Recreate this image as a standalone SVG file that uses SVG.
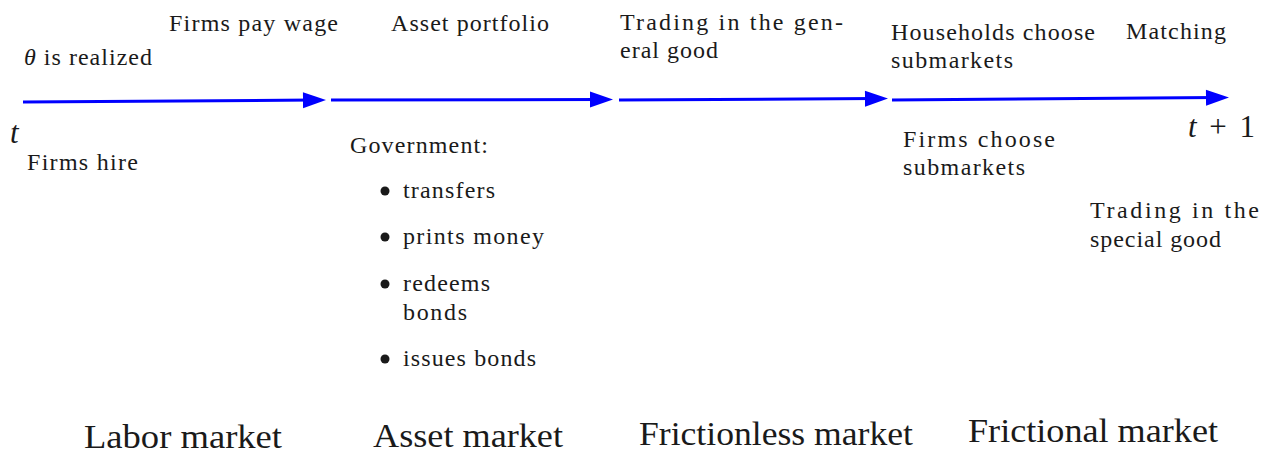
<svg xmlns="http://www.w3.org/2000/svg" width="1270" height="453" viewBox="0 0 1270 453">
<style>
.dot{fill:#1a1a1a;}
.ln{fill:none;stroke:#0000ff;stroke-width:3;}
</style>
<defs>
<marker id="ah" markerUnits="userSpaceOnUse" markerWidth="24" markerHeight="18" viewBox="0 0 24 18" refX="10" refY="9" orient="auto" overflow="visible">
<path d="M0,1 L23,9 L0,17 z" fill="#0000ff"/>
</marker>
</defs>
<rect width="1270" height="453" fill="#ffffff"/>
<g id="connectors">
<path class="ln" d="M23,102 L313,100.1" marker-end="url(#ah)"/>
<path class="ln" d="M331,100 L600,99.6" marker-end="url(#ah)"/>
<path class="ln" d="M619,100 L875,98.6" marker-end="url(#ah)"/>
<path class="ln" d="M892,100 L1216,97.6" marker-end="url(#ah)"/>
</g>
<g id="t-start"><text x="10" y="143" font-family="Liberation Serif" font-size="31" font-style="italic" fill="#1a1a1a">t</text></g>
<g id="t-end"><text x="1188" y="137" font-family="Liberation Serif" font-size="31" fill="#1a1a1a" textLength="67"><tspan font-style="italic">t</tspan> + 1</text></g>
<g id="theta"><text x="24" y="65" font-family="Liberation Serif" font-size="24" fill="#1a1a1a" textLength="128"><tspan font-style="italic">θ</tspan> is realized</text></g>
<g id="firms-hire"><text x="27" y="170" font-family="Liberation Serif" font-size="24" fill="#1a1a1a" textLength="111">Firms hire</text></g>
<g id="firms-pay"><text x="169" y="31" font-family="Liberation Serif" font-size="24" fill="#1a1a1a" textLength="169">Firms pay wage</text></g>
<g id="asset-portfolio"><text x="391" y="31" font-family="Liberation Serif" font-size="24" fill="#1a1a1a" textLength="158">Asset portfolio</text></g>
<g id="government">
<text x="350" y="153" font-family="Liberation Serif" font-size="24" fill="#1a1a1a" textLength="138">Government:</text>
<circle class="dot" cx="385" cy="191" r="4.5"/><text x="403" y="198" font-family="Liberation Serif" font-size="24" fill="#1a1a1a" textLength="92">transfers</text>
<circle class="dot" cx="385" cy="237" r="4.5"/><text x="403" y="244" font-family="Liberation Serif" font-size="24" fill="#1a1a1a" textLength="141">prints money</text>
<circle class="dot" cx="385" cy="284" r="4.5"/><text x="403" y="291" font-family="Liberation Serif" font-size="24" fill="#1a1a1a" textLength="87">redeems</text>
<text x="403" y="320" font-family="Liberation Serif" font-size="24" fill="#1a1a1a" textLength="64">bonds</text>
<circle class="dot" cx="385" cy="359" r="4.5"/><text x="403" y="366" font-family="Liberation Serif" font-size="24" fill="#1a1a1a" textLength="133">issues bonds</text>
</g>
<g id="trading-general">
<text x="620" y="30" font-family="Liberation Serif" font-size="24" fill="#1a1a1a" textLength="223">Trading in the gen-</text>
<text x="620" y="58" font-family="Liberation Serif" font-size="24" fill="#1a1a1a" textLength="98">eral good</text>
</g>
<g id="households">
<text x="891" y="40" font-family="Liberation Serif" font-size="24" fill="#1a1a1a" textLength="204">Households choose</text>
<text x="891" y="68" font-family="Liberation Serif" font-size="24" fill="#1a1a1a" textLength="122">submarkets</text>
</g>
<g id="matching"><text x="1126" y="39" font-family="Liberation Serif" font-size="24" fill="#1a1a1a" textLength="100">Matching</text></g>
<g id="firms-choose">
<text x="903" y="147" font-family="Liberation Serif" font-size="24" fill="#1a1a1a" textLength="152">Firms choose</text>
<text x="903" y="175" font-family="Liberation Serif" font-size="24" fill="#1a1a1a" textLength="122">submarkets</text>
</g>
<g id="trading-special">
<text x="1090" y="218" font-family="Liberation Serif" font-size="24" fill="#1a1a1a" textLength="169">Trading in the</text>
<text x="1090" y="247" font-family="Liberation Serif" font-size="24" fill="#1a1a1a" textLength="131">special good</text>
</g>
<g id="market-labels">
<text x="84" y="448" font-family="Liberation Serif" font-size="33" fill="#1a1a1a" textLength="198" lengthAdjust="spacingAndGlyphs">Labor market</text>
<text x="373" y="447" font-family="Liberation Serif" font-size="33" fill="#1a1a1a" textLength="190" lengthAdjust="spacingAndGlyphs">Asset market</text>
<text x="639" y="445" font-family="Liberation Serif" font-size="33" fill="#1a1a1a" textLength="274" lengthAdjust="spacingAndGlyphs">Frictionless market</text>
<text x="968" y="442" font-family="Liberation Serif" font-size="33" fill="#1a1a1a" textLength="250" lengthAdjust="spacingAndGlyphs">Frictional market</text>
</g>
</svg>
